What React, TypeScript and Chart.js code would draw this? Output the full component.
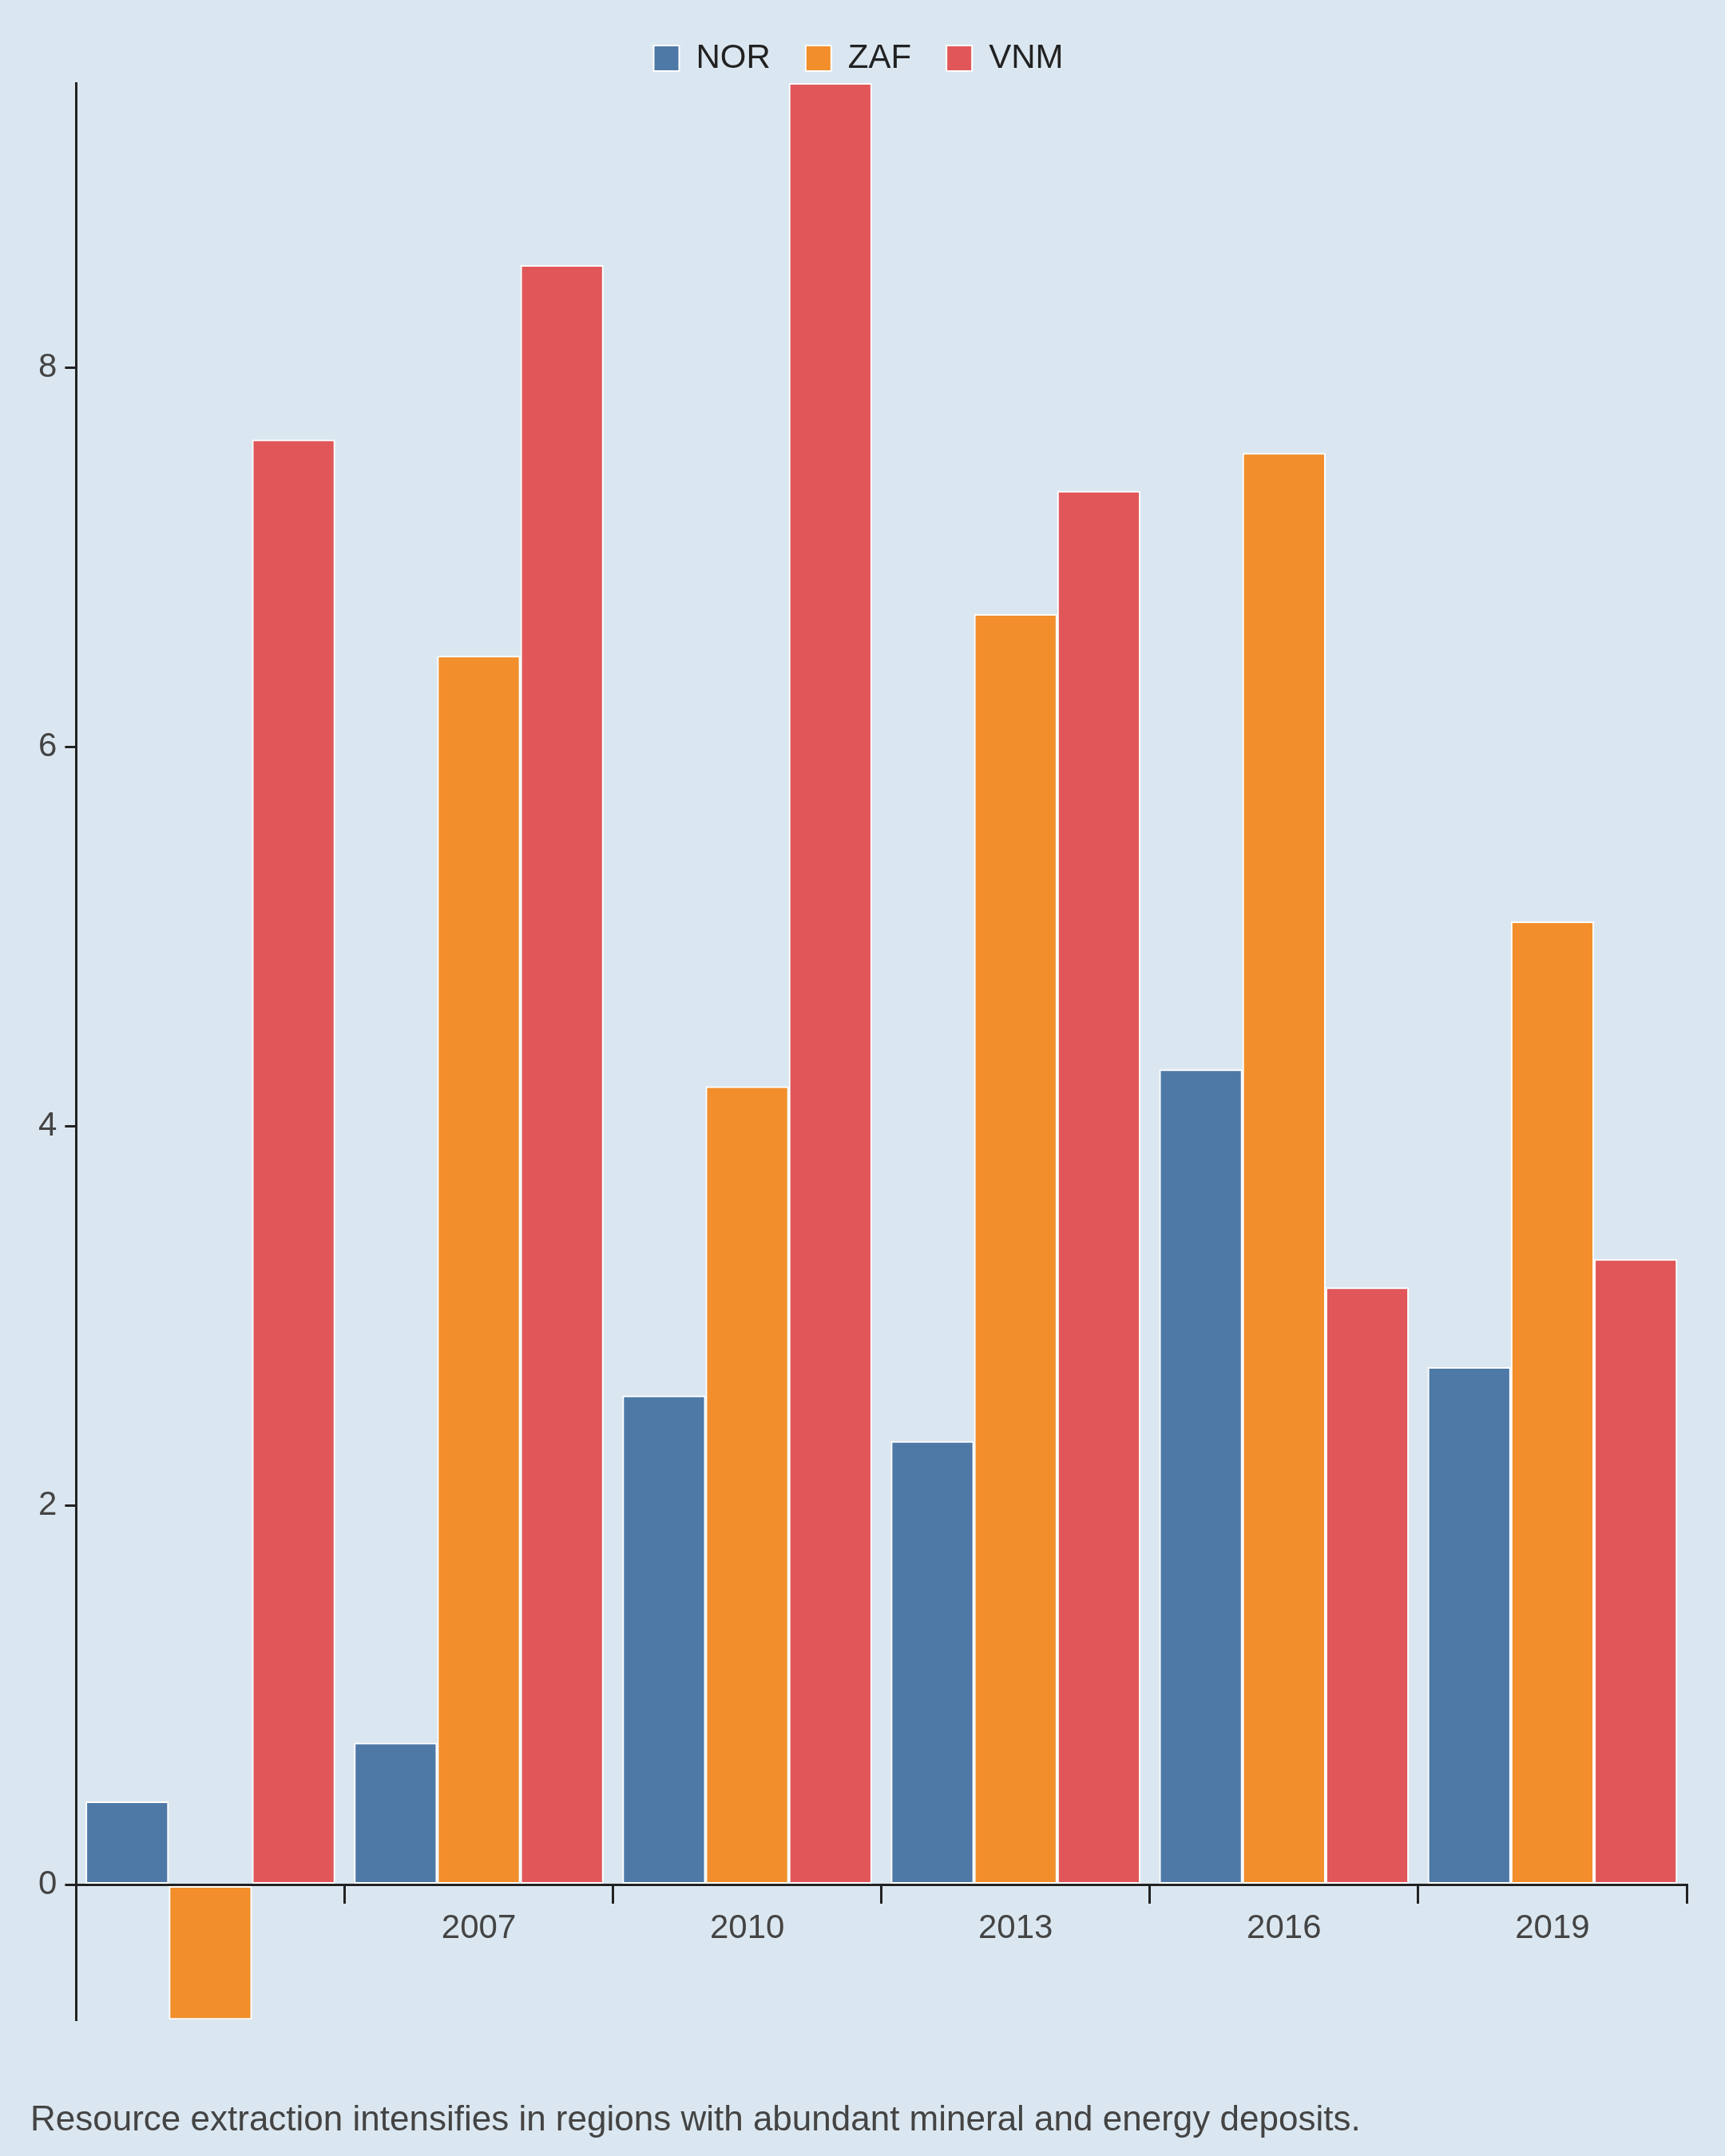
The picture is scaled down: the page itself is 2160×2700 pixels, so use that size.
import React, { useEffect, useRef } from "react";
import { Chart, registerables } from "chart.js";
Chart.register(...registerables);

const categories = ["2004", "2007", "2010", "2013", "2016", "2019"];
const nor = [0.44, 0.75, 2.58, 2.34, 4.3, 2.73];
const zaf = [-0.71, 6.48, 4.21, 6.7, 7.55, 5.08];
const vnm = [7.62, 8.54, 9.5, 7.35, 3.15, 3.3];
const caption = "Resource extraction intensifies in regions with abundant mineral and energy deposits.";

export default function App() {
  const ref = useRef<HTMLCanvasElement>(null);
  useEffect(() => {
    document.body.style.background = "#dbe7f0";
    const font = "'Liberation Sans', Arial, sans-serif";
    const mk = (label: string, data: number[], color: string) => ({
      label, data, backgroundColor: color, borderColor: "#ffffff", borderWidth: 2,
      borderSkipped: false, categoryPercentage: 0.93, barPercentage: 1.0,
    });
    const chart = new Chart(ref.current!, {
      type: "bar",
      data: {
        labels: categories,
        datasets: [mk("NOR", nor, "#4e79a7"), mk("ZAF", zaf, "#f28e2b"), mk("VNM", vnm, "#e15759")],
      },
      options: {
        animation: false,
        responsive: false,
        layout: { padding: { left: 30, right: 40, top: 0, bottom: 10 } },
        plugins: {
          legend: {
            position: "top",
            labels: { font: { family: font, size: 42 }, color: "#222", boxWidth: 32, boxHeight: 32, padding: 44 },
          },
          subtitle: {
            display: true, text: caption, position: "bottom", align: "start",
            font: { family: font, size: 44 }, color: "#444", padding: { top: 100, bottom: 0 },
          },
          tooltip: { enabled: false },
        },
        scales: {
          x: {
            position: { y: 0 } as any,
            grid: { display: true, drawOnChartArea: false, offset: true, tickLength: 22, color: "#222", lineWidth: 3 },
            border: { display: true, color: "#222", width: 3 },
            ticks: { autoSkip: false, maxRotation: 0, font: { family: font, size: 42 }, color: "#444", padding: 8 },
          },
          y: {
            min: -0.71, max: 9.5,
            grid: { display: true, drawOnChartArea: false, tickLength: 14, color: "#222", lineWidth: 3 },
            border: { display: true, color: "#222", width: 3 },
            ticks: { stepSize: 2, font: { family: font, size: 42 }, color: "#444", padding: 10,
              callback: (v: any) => (Number.isInteger(v) ? String(v) : "") },
            afterBuildTicks: (s: any) => { s.ticks = [0, 2, 4, 6, 8].map((v) => ({ value: v })); },
          },
        },
      },
    });
    return () => chart.destroy();
  }, []);
  return (
    <div style={{ background: "#dbe7f0", width: 2144, height: 2684 }}>
      <canvas ref={ref} width={2144} height={2684} style={{ width: 2144, height: 2684 }} />
    </div>
  );
}
